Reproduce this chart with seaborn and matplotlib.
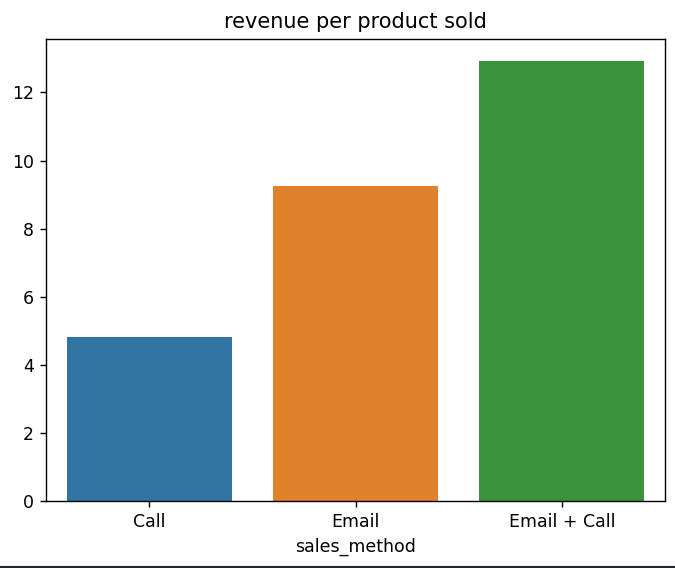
import matplotlib
matplotlib.use("Agg")
import matplotlib.pyplot as plt
import matplotlib.lines as mlines
import seaborn as sns
import pandas as pd

sales_method = ["Call", "Email", "Email + Call"]
revenue_per_product = [4.81, 9.26, 12.94]

df = pd.DataFrame({"sales_method": sales_method, "revenue_per_product": revenue_per_product})

DPI = 125
fig = plt.figure(figsize=(675 / DPI, 568 / DPI), dpi=DPI)
ax = fig.add_axes([46 / 675, 1 - 500.7 / 568, 619 / 675, 462.2 / 568])
sns.barplot(data=df, x="sales_method", y="revenue_per_product", hue="sales_method",
            palette="tab10", legend=False, ax=ax)
ax.set_ylabel("")
ax.set_title("revenue per product sold")
# screenshot frame line at the bottom
fig.add_artist(mlines.Line2D([0, 1], [1.5 / 568, 1.5 / 568], transform=fig.transFigure,
                             color="#222831", linewidth=1.2))
fig.savefig("out.png", dpi=DPI)
